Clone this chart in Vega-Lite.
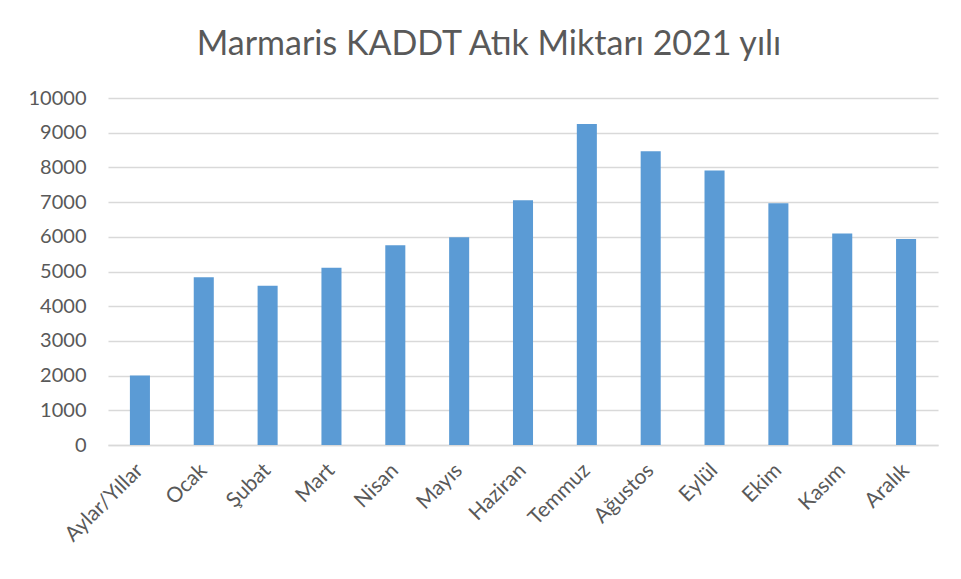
{
  "$schema": "https://vega.github.io/schema/vega-lite/v6.json",
  "width": 830,
  "height": 347,
  "autosize": {"type": "none"},
  "padding": {"left": 108, "top": 98, "right": 23, "bottom": 134},
  "background": "white",
  "title": {
    "text": "Marmaris KADDT Atık Miktarı 2021 yılı",
    "font": "Lato",
    "fontSize": 34,
    "fontWeight": "normal",
    "color": "#595959",
    "anchor": "middle",
    "dx": -34,
    "baseline": "alphabetic",
    "offset": -1
  },
  "data": {
    "values": [
      {"ay": "Aylar/Yıllar", "miktar": 2006},
      {"ay": "Ocak", "miktar": 4837},
      {"ay": "Şubat", "miktar": 4587},
      {"ay": "Mart", "miktar": 5106},
      {"ay": "Nisan", "miktar": 5758},
      {"ay": "Mayıs", "miktar": 5988},
      {"ay": "Haziran", "miktar": 7054},
      {"ay": "Temmuz", "miktar": 9251},
      {"ay": "Ağustos", "miktar": 8464},
      {"ay": "Eylül", "miktar": 7908},
      {"ay": "Ekim", "miktar": 6967},
      {"ay": "Kasım", "miktar": 6094},
      {"ay": "Aralık", "miktar": 5940}
    ]
  },
  "mark": {"type": "bar", "color": "#5b9bd5"},
  "encoding": {
    "x": {
      "field": "ay",
      "type": "nominal",
      "sort": null,
      "title": null,
      "scale": {"paddingInner": 0.686, "paddingOuter": 0.343},
      "axis": {
        "labelAngle": -45,
        "labelAlign": "right",
        "labelBaseline": "middle",
        "labelPadding": 22,
        "labelFont": "Lato",
        "labelFontSize": 21,
        "labelColor": "#595959",
        "ticks": false,
        "domain": true,
        "domainColor": "#d9d9d9",
        "domainWidth": 1.3
      }
    },
    "y": {
      "field": "miktar",
      "type": "quantitative",
      "title": null,
      "scale": {"domain": [0, 10000], "nice": false},
      "axis": {
        "values": [0, 1000, 2000, 3000, 4000, 5000, 6000, 7000, 8000, 9000, 10000],
        "format": "d",
        "labelFont": "Lato",
        "labelFontSize": 20,
        "labelColor": "#595959",
        "labelPadding": 22,
        "ticks": false,
        "domain": false,
        "grid": true,
        "gridColor": "#d9d9d9",
        "gridWidth": 1.3
      }
    }
  },
  "config": {"view": {"stroke": null}}
}
